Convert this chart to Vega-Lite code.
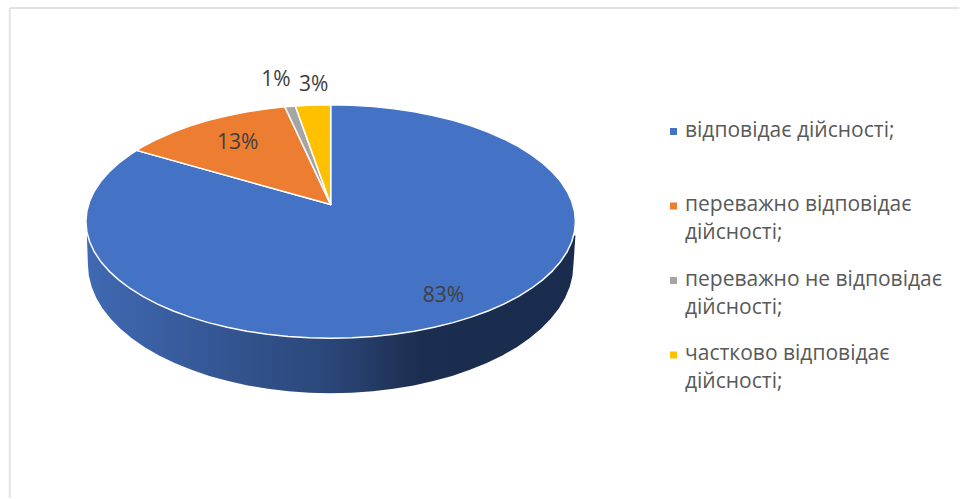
{"$schema":"https://vega.github.io/schema/vega-lite/v6.json","width":960,"height":499,"padding":0,"autosize":{"type":"fit","contains":"padding"},"background":"white","config":{"view":{"stroke":null}},
"datasets":{
"frame":[{"x":-131.1,"x2":-131.1,"y":182.9,"y2":-236.8},{"x":-131.1,"x2":256.7,"y":182.9,"y2":182.9}],
"wall":[{"i":0,"x":-99.6,"y":-12},{"i":1,"x":-99.18,"y":-36.75},{"i":2,"x":-98.8,"y":-46.36},{"i":3,"x":-97.67,"y":-55.9},{"i":4,"x":-95.8,"y":-65.29},{"i":5,"x":-93.2,"y":-74.46},{"i":6,"x":-89.89,"y":-83.35},{"i":7,"x":-85.89,"y":-91.88},{"i":8,"x":-81.24,"y":-99.99},{"i":9,"x":-75.98,"y":-107.62},{"i":10,"x":-70.13,"y":-114.71},{"i":11,"x":-63.75,"y":-121.21},{"i":12,"x":-56.89,"y":-127.07},{"i":13,"x":-49.59,"y":-132.24},{"i":14,"x":-41.91,"y":-136.68},{"i":15,"x":-33.92,"y":-140.36},{"i":16,"x":-25.67,"y":-143.25},{"i":17,"x":-17.22,"y":-145.34},{"i":18,"x":-8.64,"y":-146.59},{"i":19,"x":0,"y":-147.01},{"i":20,"x":8.64,"y":-146.59},{"i":21,"x":17.22,"y":-145.34},{"i":22,"x":25.67,"y":-143.25},{"i":23,"x":33.92,"y":-140.36},{"i":24,"x":41.91,"y":-136.68},{"i":25,"x":49.59,"y":-132.24},{"i":26,"x":56.89,"y":-127.07},{"i":27,"x":63.75,"y":-121.21},{"i":28,"x":70.13,"y":-114.71},{"i":29,"x":75.98,"y":-107.62},{"i":30,"x":81.24,"y":-99.99},{"i":31,"x":85.89,"y":-91.88},{"i":32,"x":89.89,"y":-83.35},{"i":33,"x":93.2,"y":-74.46},{"i":34,"x":95.8,"y":-65.29},{"i":35,"x":97.67,"y":-55.9},{"i":36,"x":98.8,"y":-46.36},{"i":37,"x":99.18,"y":-36.75},{"i":38,"x":100,"y":-12}],
"top":[
{"part":"відповідає дійсності;","i":0,"x":0,"y":14.5},{"part":"відповідає дійсності;","i":1,"x":0,"y":100},{"part":"відповідає дійсності;","i":2,"x":8.72,"y":99.62},{"part":"відповідає дійсності;","i":3,"x":17.36,"y":98.48},{"part":"відповідає дійсності;","i":4,"x":25.88,"y":96.59},{"part":"відповідає дійсності;","i":5,"x":34.2,"y":93.97},{"part":"відповідає дійсності;","i":6,"x":42.26,"y":90.63},{"part":"відповідає дійсності;","i":7,"x":50,"y":86.6},{"part":"відповідає дійсності;","i":8,"x":57.36,"y":81.92},{"part":"відповідає дійсності;","i":9,"x":64.28,"y":76.6},{"part":"відповідає дійсності;","i":10,"x":70.71,"y":70.71},{"part":"відповідає дійсності;","i":11,"x":76.6,"y":64.28},{"part":"відповідає дійсності;","i":12,"x":81.92,"y":57.36},{"part":"відповідає дійсності;","i":13,"x":86.6,"y":50},{"part":"відповідає дійсності;","i":14,"x":90.63,"y":42.26},{"part":"відповідає дійсності;","i":15,"x":93.97,"y":34.2},{"part":"відповідає дійсності;","i":16,"x":96.59,"y":25.88},{"part":"відповідає дійсності;","i":17,"x":98.48,"y":17.36},{"part":"відповідає дійсності;","i":18,"x":99.62,"y":8.72},{"part":"відповідає дійсності;","i":19,"x":100,"y":0},{"part":"відповідає дійсності;","i":20,"x":99.62,"y":-8.72},{"part":"відповідає дійсності;","i":21,"x":98.48,"y":-17.36},{"part":"відповідає дійсності;","i":22,"x":96.59,"y":-25.88},{"part":"відповідає дійсності;","i":23,"x":93.97,"y":-34.2},{"part":"відповідає дійсності;","i":24,"x":90.63,"y":-42.26},{"part":"відповідає дійсності;","i":25,"x":86.6,"y":-50},{"part":"відповідає дійсності;","i":26,"x":81.92,"y":-57.36},{"part":"відповідає дійсності;","i":27,"x":76.6,"y":-64.28},{"part":"відповідає дійсності;","i":28,"x":70.71,"y":-70.71},{"part":"відповідає дійсності;","i":29,"x":64.28,"y":-76.6},{"part":"відповідає дійсності;","i":30,"x":57.36,"y":-81.92},{"part":"відповідає дійсності;","i":31,"x":50,"y":-86.6},{"part":"відповідає дійсності;","i":32,"x":42.26,"y":-90.63},{"part":"відповідає дійсності;","i":33,"x":34.2,"y":-93.97},{"part":"відповідає дійсності;","i":34,"x":25.88,"y":-96.59},{"part":"відповідає дійсності;","i":35,"x":17.36,"y":-98.48},{"part":"відповідає дійсності;","i":36,"x":8.72,"y":-99.62},{"part":"відповідає дійсності;","i":37,"x":0,"y":-100},{"part":"відповідає дійсності;","i":38,"x":-8.72,"y":-99.62},{"part":"відповідає дійсності;","i":39,"x":-17.36,"y":-98.48},{"part":"відповідає дійсності;","i":40,"x":-25.88,"y":-96.59},{"part":"відповідає дійсності;","i":41,"x":-34.2,"y":-93.97},{"part":"відповідає дійсності;","i":42,"x":-42.26,"y":-90.63},{"part":"відповідає дійсності;","i":43,"x":-50,"y":-86.6},{"part":"відповідає дійсності;","i":44,"x":-57.36,"y":-81.92},{"part":"відповідає дійсності;","i":45,"x":-64.28,"y":-76.6},{"part":"відповідає дійсності;","i":46,"x":-70.71,"y":-70.71},{"part":"відповідає дійсності;","i":47,"x":-76.6,"y":-64.28},{"part":"відповідає дійсності;","i":48,"x":-81.92,"y":-57.36},{"part":"відповідає дійсності;","i":49,"x":-86.6,"y":-50},{"part":"відповідає дійсності;","i":50,"x":-90.63,"y":-42.26},{"part":"відповідає дійсності;","i":51,"x":-93.97,"y":-34.2},{"part":"відповідає дійсності;","i":52,"x":-96.59,"y":-25.88},{"part":"відповідає дійсності;","i":53,"x":-98.48,"y":-17.36},{"part":"відповідає дійсності;","i":54,"x":-99.62,"y":-8.72},{"part":"відповідає дійсності;","i":55,"x":-100,"y":0},{"part":"відповідає дійсності;","i":56,"x":-99.62,"y":8.72},{"part":"відповідає дійсності;","i":57,"x":-98.48,"y":17.36},{"part":"відповідає дійсності;","i":58,"x":-96.59,"y":25.88},{"part":"відповідає дійсності;","i":59,"x":-93.97,"y":34.2},{"part":"відповідає дійсності;","i":60,"x":-90.63,"y":42.26},{"part":"відповідає дійсності;","i":61,"x":-86.6,"y":50},{"part":"відповідає дійсності;","i":62,"x":-81.92,"y":57.36},{"part":"відповідає дійсності;","i":63,"x":-79.3,"y":60.9},
{"part":"переважно відповідає дійсності;","i":0,"x":0,"y":14.5},{"part":"переважно відповідає дійсності;","i":1,"x":-79.3,"y":60.9},{"part":"переважно відповідає дійсності;","i":2,"x":-76.6,"y":64.28},{"part":"переважно відповідає дійсності;","i":3,"x":-70.71,"y":70.71},{"part":"переважно відповідає дійсності;","i":4,"x":-64.28,"y":76.6},{"part":"переважно відповідає дійсності;","i":5,"x":-57.36,"y":81.92},{"part":"переважно відповідає дійсності;","i":6,"x":-50,"y":86.6},{"part":"переважно відповідає дійсності;","i":7,"x":-42.26,"y":90.63},{"part":"переважно відповідає дійсності;","i":8,"x":-34.2,"y":93.97},{"part":"переважно відповідає дійсності;","i":9,"x":-25.88,"y":96.59},{"part":"переважно відповідає дійсності;","i":10,"x":-18.74,"y":98.23},
{"part":"переважно не відповідає дійсності;","i":0,"x":0,"y":14.5},{"part":"переважно не відповідає дійсності;","i":1,"x":-18.74,"y":98.23},{"part":"переважно не відповідає дійсності;","i":2,"x":-14.44,"y":98.95},
{"part":"частково відповідає дійсності;","i":0,"x":0,"y":14.5},{"part":"частково відповідає дійсності;","i":1,"x":-14.44,"y":98.95},{"part":"частково відповідає дійсності;","i":2,"x":-8.72,"y":99.62},{"part":"частково відповідає дійсності;","i":3,"x":0,"y":100}
],
"labels":[{"share":0.83,"x":46.1,"y":-63.2},{"share":0.13,"x":-38,"y":68.4},{"share":0.01,"x":-22.4,"y":122.2},{"share":0.03,"x":-6.9,"y":117.9}]
},
"layer":[
{"data":{"name":"frame"},"mark":{"type":"rule","stroke":"#E2E2E2","strokeWidth":2},"encoding":{"x":{"field":"x","type":"quantitative","scale":{"domain":[-135.1,256.7],"nice":false,"zero":false},"axis":null},"x2":{"field":"x2"},"y":{"field":"y","type":"quantitative","scale":{"domain":[-236.8,189.7],"nice":false,"zero":false},"axis":null},"y2":{"field":"y2"}}},
{"data":{"name":"wall"},"mark":{"type":"line","interpolate":"linear-closed","strokeWidth":0,"fill":{"gradient":"linear","x1":0,"y1":0,"x2":1,"y2":0,"stops":[{"offset":0,"color":"#4069B3"},{"offset":0.5,"color":"#2A4678"},{"offset":0.68,"color":"#1C2E50"},{"offset":1,"color":"#1A2C4E"}]}},"encoding":{"x":{"field":"x","type":"quantitative"},"y":{"field":"y","type":"quantitative"},"order":{"field":"i","type":"quantitative"}}},
{"data":{"name":"top"},"mark":{"type":"line","interpolate":"linear-closed","stroke":"white","strokeWidth":1.5,"strokeJoin":"round"},"encoding":{"x":{"field":"x","type":"quantitative"},"y":{"field":"y","type":"quantitative"},"order":{"field":"i","type":"quantitative"},"fill":{"field":"part","type":"nominal","sort":null,"scale":{"domain":["відповідає дійсності;","переважно відповідає дійсності;","переважно не відповідає дійсності;","частково відповідає дійсності;"],"range":["#4472C4","#ED7D31","#A5A5A5","#FFC000"]},"legend":{"orient":"none","legendX":663,"legendY":121,"title":null,"symbolType":"square","symbolSize":49,"symbolStrokeWidth":0,"labelFont":"Open Sans","labelFontSize":21,"labelColor":"#595959","labelLimit":400,"labelOffset":1,"rowPadding":24.5,"labelExpr":"datum.label === 'відповідає дійсності;' ? [datum.label, ' '] : [replace(datum.label, ' дійсності;', ''), 'дійсності;']","encoding":{"labels":{"lineHeight":{"value":28},"dy":{"value":-1}}}}}}},
{"data":{"name":"labels"},"mark":{"type":"text","font":"Open Sans","fontSize":21,"color":"#404040","dy":1},"encoding":{"x":{"field":"x","type":"quantitative"},"y":{"field":"y","type":"quantitative"},"text":{"field":"share","type":"quantitative","format":".0%"}}}
]}
